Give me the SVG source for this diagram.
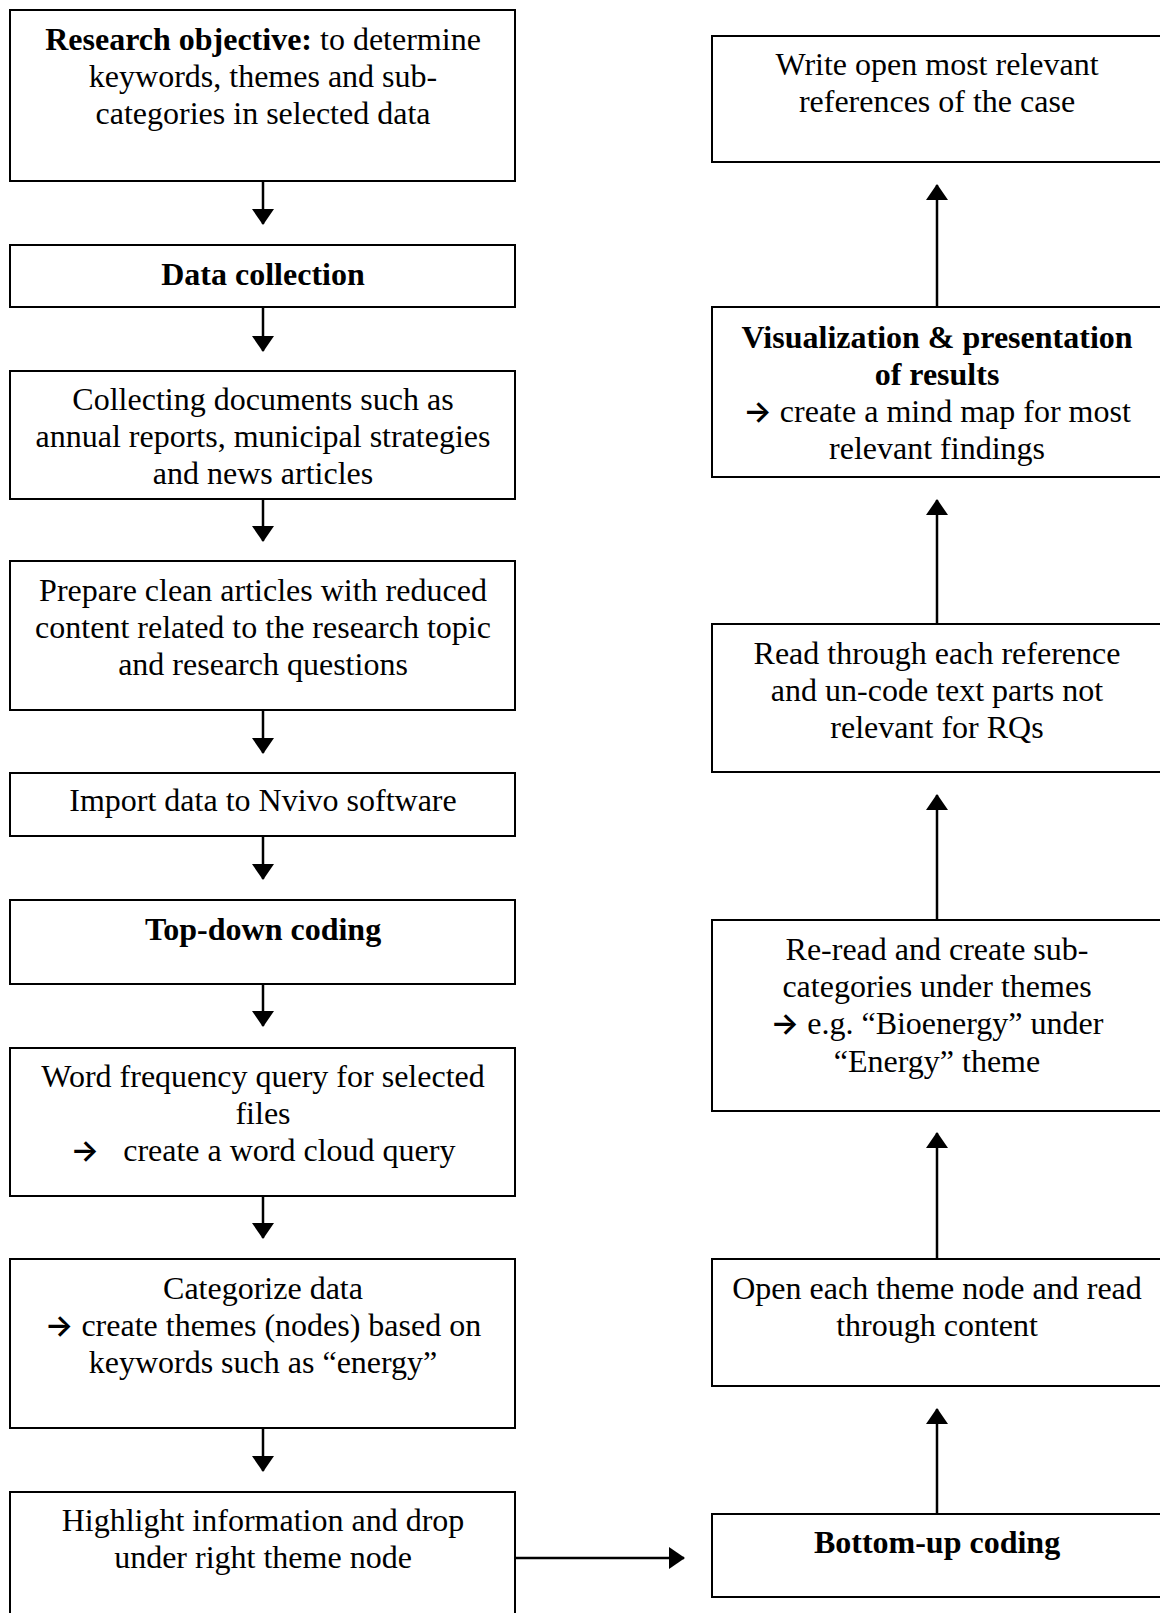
<svg xmlns="http://www.w3.org/2000/svg" width="1160" height="1613" viewBox="0 0 1160 1613">
<style>
.box{fill:#fff;stroke:#000;stroke-width:2}
.t{font-family:"Liberation Serif","Times New Roman",serif;font-size:32px;fill:#000;text-anchor:middle}
.b{font-weight:bold}
.ar{font-family:Inter,"Noto Sans","DejaVu Sans",sans-serif;font-size:30px;font-weight:600}
.c{stroke:#000;stroke-width:2.5;fill:none;marker-end:url(#ah)}
</style>
<defs>
<marker id="ah" markerUnits="userSpaceOnUse" viewBox="0 0 16 22" refX="15" refY="11" markerWidth="16" markerHeight="22" orient="auto">
<path d="M0,0 L16,11 L0,22 z" fill="#000"/>
</marker>
</defs>
<rect width="1160" height="1613" fill="#fff"/>
<g id="connectors">
<line class="c" x1="263" y1="181" x2="263" y2="224"/>
<line class="c" x1="263" y1="307" x2="263" y2="351"/>
<line class="c" x1="263" y1="499" x2="263" y2="541"/>
<line class="c" x1="263" y1="710" x2="263" y2="753"/>
<line class="c" x1="263" y1="836" x2="263" y2="879"/>
<line class="c" x1="263" y1="984" x2="263" y2="1026"/>
<line class="c" x1="263" y1="1196" x2="263" y2="1238"/>
<line class="c" x1="263" y1="1428" x2="263" y2="1471"/>
<line class="c" x1="513" y1="1558" x2="684" y2="1558"/>
<line class="c" x1="937" y1="1514" x2="937" y2="1409"/>
<line class="c" x1="937" y1="1259" x2="937" y2="1133"/>
<line class="c" x1="937" y1="920" x2="937" y2="795"/>
<line class="c" x1="937" y1="624" x2="937" y2="500"/>
<line class="c" x1="937" y1="307" x2="937" y2="185"/>
</g>
<g id="n1"><rect class="box" x="10" y="10" width="505" height="171"/>
<text class="t" x="263" y="50"><tspan class="b">Research objective:</tspan> to determine</text>
<text class="t" x="263" y="87">keywords, themes and sub-</text>
<text class="t" x="263" y="124">categories in selected data</text></g>
<g id="n2"><rect class="box" x="10" y="245" width="505" height="62"/>
<text class="t b" x="263" y="285">Data collection</text></g>
<g id="n3"><rect class="box" x="10" y="371" width="505" height="128"/>
<text class="t" x="263" y="410">Collecting documents such as</text>
<text class="t" x="263" y="447">annual reports, municipal strategies</text>
<text class="t" x="263" y="484">and news articles</text></g>
<g id="n4"><rect class="box" x="10" y="561" width="505" height="149"/>
<text class="t" x="263" y="601">Prepare clean articles with reduced</text>
<text class="t" x="263" y="638">content related to the research topic</text>
<text class="t" x="263" y="675">and research questions</text></g>
<g id="n5"><rect class="box" x="10" y="773" width="505" height="63"/>
<text class="t" x="263" y="811">Import data to Nvivo software</text></g>
<g id="n6"><rect class="box" x="10" y="900" width="505" height="84"/>
<text class="t b" x="263" y="940">Top-down coding</text></g>
<g id="n7"><rect class="box" x="10" y="1048" width="505" height="148"/>
<text class="t" x="263" y="1087">Word frequency query for selected</text>
<text class="t" x="263" y="1124">files</text>
<text class="t" x="263" y="1161" xml:space="preserve"><tspan class="ar">→</tspan>   create a word cloud query</text></g>
<g id="n8"><rect class="box" x="10" y="1259" width="505" height="169"/>
<text class="t" x="263" y="1299">Categorize data</text>
<text class="t" x="263" y="1336"><tspan class="ar">→</tspan> create themes (nodes) based on</text>
<text class="t" x="263" y="1373">keywords such as “energy”</text></g>
<g id="n9"><rect class="box" x="10" y="1492" width="505" height="130"/>
<text class="t" x="263" y="1531">Highlight information and drop</text>
<text class="t" x="263" y="1568">under right theme node</text></g>
<g id="r1"><rect class="box" x="712" y="36" width="460" height="126"/>
<text class="t" x="937" y="75">Write open most relevant</text>
<text class="t" x="937" y="112">references of the case</text></g>
<g id="r2"><rect class="box" x="712" y="307" width="460" height="170"/>
<text class="t b" x="937" y="348">Visualization &amp; presentation</text>
<text class="t b" x="937" y="385">of results</text>
<text class="t" x="937" y="422"><tspan class="ar">→</tspan> create a mind map for most</text>
<text class="t" x="937" y="459">relevant findings</text></g>
<g id="r3"><rect class="box" x="712" y="624" width="460" height="148"/>
<text class="t" x="937" y="664">Read through each reference</text>
<text class="t" x="937" y="701">and un-code text parts not</text>
<text class="t" x="937" y="738">relevant for RQs</text></g>
<g id="r4"><rect class="box" x="712" y="920" width="460" height="191"/>
<text class="t" x="937" y="960">Re-read and create sub-</text>
<text class="t" x="937" y="997">categories under themes</text>
<text class="t" x="937" y="1034"><tspan class="ar">→</tspan> e.g. “Bioenergy” under</text>
<text class="t" x="937" y="1072">“Energy” theme</text></g>
<g id="r5"><rect class="box" x="712" y="1259" width="460" height="127"/>
<text class="t" x="937" y="1299">Open each theme node and read</text>
<text class="t" x="937" y="1336">through content</text></g>
<g id="r6"><rect class="box" x="712" y="1514" width="460" height="83"/>
<text class="t b" x="937" y="1553">Bottom-up coding</text></g>
</svg>
